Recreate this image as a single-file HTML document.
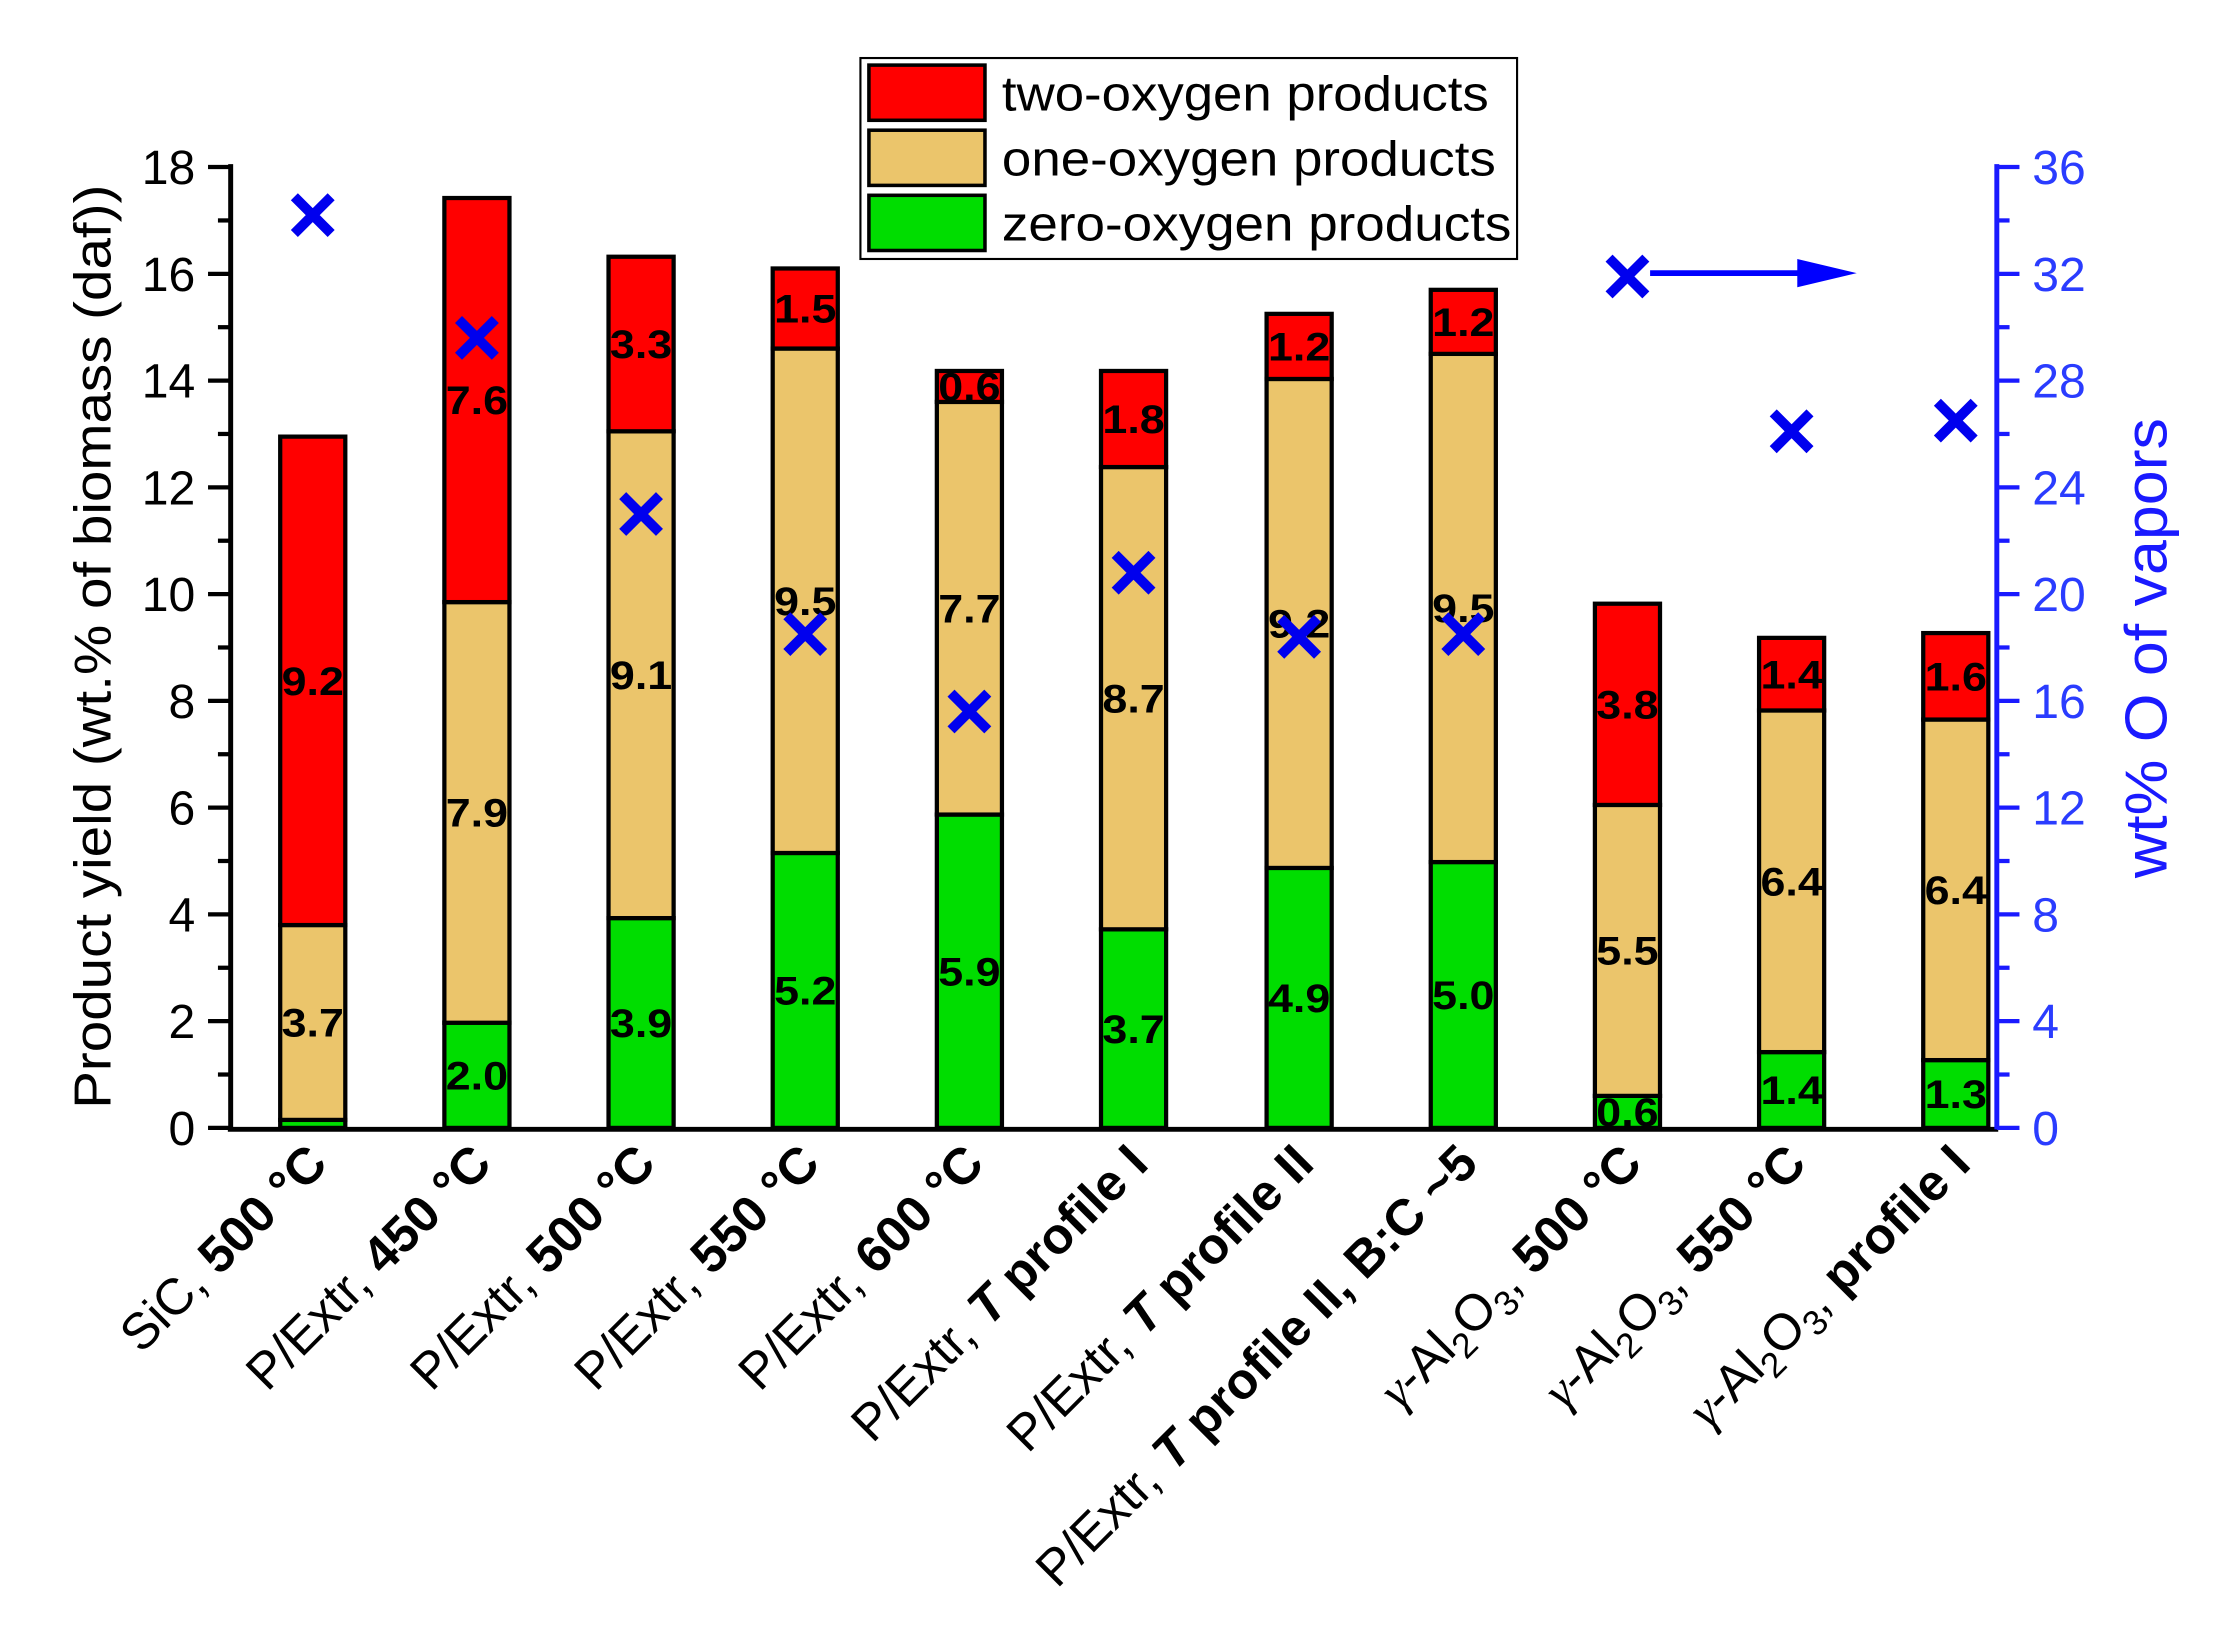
<!DOCTYPE html>
<html><head><meta charset="utf-8"><style>
html,body{margin:0;padding:0;background:#fff}
svg{display:block}
text{font-family:"Liberation Sans",Arial,sans-serif}
</style></head><body>
<svg width="2219" height="1632" viewBox="0 0 1568 1153.2" xmlns="http://www.w3.org/2000/svg">
<rect width="1568" height="1154" fill="#fff"/>
<g id="bars" stroke="#000" stroke-width="3"></g>
<g id="marks"></g>
<g stroke="#000" stroke-width="3.5" fill="none">
<line x1="163" y1="116" x2="163" y2="798"/>
<line x1="161" y1="798" x2="1412" y2="798"/>
</g>
<g id="lt" stroke="#000" stroke-width="3"></g>
<g id="ltl" font-size="34" text-anchor="end"></g>
<g stroke="#1a1aff" stroke-width="3.5"><line x1="1411" y1="116" x2="1411" y2="798"/></g>
<g id="rt" stroke="#1a1aff" stroke-width="3"></g>
<g id="rtl" font-size="34" fill="#2a3cff"></g>
<text transform="translate(78,457) rotate(-90)" font-size="37" text-anchor="middle" textLength="653" lengthAdjust="spacingAndGlyphs">Product yield (wt.% of biomass (daf))</text>
<text transform="translate(1531,458) rotate(-90)" font-size="42" text-anchor="middle" fill="#1a1aff" textLength="325" lengthAdjust="spacingAndGlyphs">wt% O of vapors</text>
<rect x="608" y="41" width="464" height="142" fill="#fff" stroke="#000" stroke-width="1.5"/>
<rect x="614" y="46" width="82" height="39" fill="#ff0000" stroke="#000" stroke-width="2.5"/>
<rect x="614" y="92" width="82" height="39" fill="#ebc56b" stroke="#000" stroke-width="2.5"/>
<rect x="614" y="138" width="82" height="39" fill="#00dd00" stroke="#000" stroke-width="2.5"/>
<g font-size="35">
<text x="708" y="78" textLength="344" lengthAdjust="spacingAndGlyphs">two-oxygen products</text>
<text x="708" y="124" textLength="349" lengthAdjust="spacingAndGlyphs">one-oxygen products</text>
<text x="708" y="170" textLength="360" lengthAdjust="spacingAndGlyphs">zero-oxygen products</text>
</g>
<line x1="1166" y1="193" x2="1272" y2="193" stroke="#0000ff" stroke-width="4"/>
<polygon points="1270,183 1312,193 1270,203" fill="#0000ff"/>
<g id="xl" font-size="36"></g>
</svg>
<script>
const NS="http://www.w3.org/2000/svg";
function el(p,t,a,txt){const e=document.createElementNS(NS,t);for(const k in a)e.setAttribute(k,a[k]);if(txt!==undefined)e.textContent=txt;document.getElementById(p).appendChild(e);return e;}
const Y=v=>797-v*37.72, YR=v=>797-v*18.86;
const cx=[221,337,453,569,685,801,918,1034,1150,1266,1382];
const data=[[0.15,3.65,9.15,"","3.7","9.2",34.2],[1.97,7.88,7.57,"2.0","7.9","7.6",29.6],[3.93,9.12,3.27,"3.9","9.1","3.3",23.0],[5.15,9.45,1.5,"5.2","9.5","1.5",18.5],[5.87,7.73,0.58,"5.9","7.7","0.6",15.6],[3.72,8.66,1.8,"3.7","8.7","1.8",20.8],[4.87,9.16,1.22,"4.9","9.2","1.2",18.4],[4.98,9.52,1.2,"5.0","9.5","1.2",18.5],[0.6,5.45,3.77,"0.6","5.5","3.8",31.9],[1.42,6.4,1.36,"1.4","6.4","1.4",26.1],[1.27,6.38,1.62,"1.3","6.4","1.6",26.5]];
const cols=["#00dd00","#ebc56b","#ff0000"];
data.forEach((d,i)=>{let b=0;for(let k=0;k<3;k++){const t=b+d[k];el("bars","rect",{x:cx[i]-23,y:Y(t),width:46,height:Y(b)-Y(t),fill:cols[k]});
if(d[k+3]){el("marks","text",{x:cx[i],y:(Y(b)+Y(t))/2+10,"font-size":28,"font-weight":"bold","text-anchor":"middle",textLength:44,lengthAdjust:"spacingAndGlyphs"},d[k+3]);}b=t;}
const y=YR(d[6]),x=cx[i];el("marks","path",{d:`M${x-13} ${y-13}L${x+13} ${y+13}M${x+13} ${y-13}L${x-13} ${y+13}`,stroke:"#0000ee","stroke-width":7});});
for(let v=0;v<=18;v++){const maj=v%2==0;el("lt","line",{x1:163-(maj?16:9),x2:163,y1:Y(v),y2:Y(v)});if(maj)el("ltl","text",{x:138,y:Y(v)+12},v);}
for(let v=0;v<=36;v+=2){const maj=v%4==0;el("rt","line",{x1:1411,x2:1411+(maj?16:9),y1:YR(v),y2:YR(v)});if(maj)el("rtl","text",{x:1436,y:YR(v)+12},v);}
const sub=s=>`<tspan font-size="25" dy="8">${s}</tspan><tspan dy="-8">`;
const g=`<tspan font-family="Liberation Serif,serif" font-style="italic">γ</tspan>-Al${sub(2)}O${sub(3)},</tspan>`;
const labs=["SiC, <tspan font-weight='bold'>500 °C</tspan>","P/Extr, <tspan font-weight='bold'>450 °C</tspan>","P/Extr, <tspan font-weight='bold'>500 °C</tspan>","P/Extr, <tspan font-weight='bold'>550 °C</tspan>","P/Extr, <tspan font-weight='bold'>600 °C</tspan>","P/Extr, <tspan font-weight='bold'><tspan font-style='italic'>T</tspan> profile I</tspan>","P/Extr, <tspan font-weight='bold'><tspan font-style='italic'>T</tspan> profile II</tspan>","P/Extr, <tspan font-weight='bold'><tspan font-style='italic'>T</tspan> profile II, B:C ~5</tspan>",g+" <tspan font-weight='bold'>500 °C</tspan>",g+" <tspan font-weight='bold'>550 °C</tspan>",g+" <tspan font-weight='bold'>profile I</tspan>"];
labs.forEach((l,i)=>{const t=el("xl","text",{transform:`translate(${cx[i]+12},824) rotate(-45)`,"text-anchor":"end"});t.innerHTML=l;});
</script>
</body></html>
